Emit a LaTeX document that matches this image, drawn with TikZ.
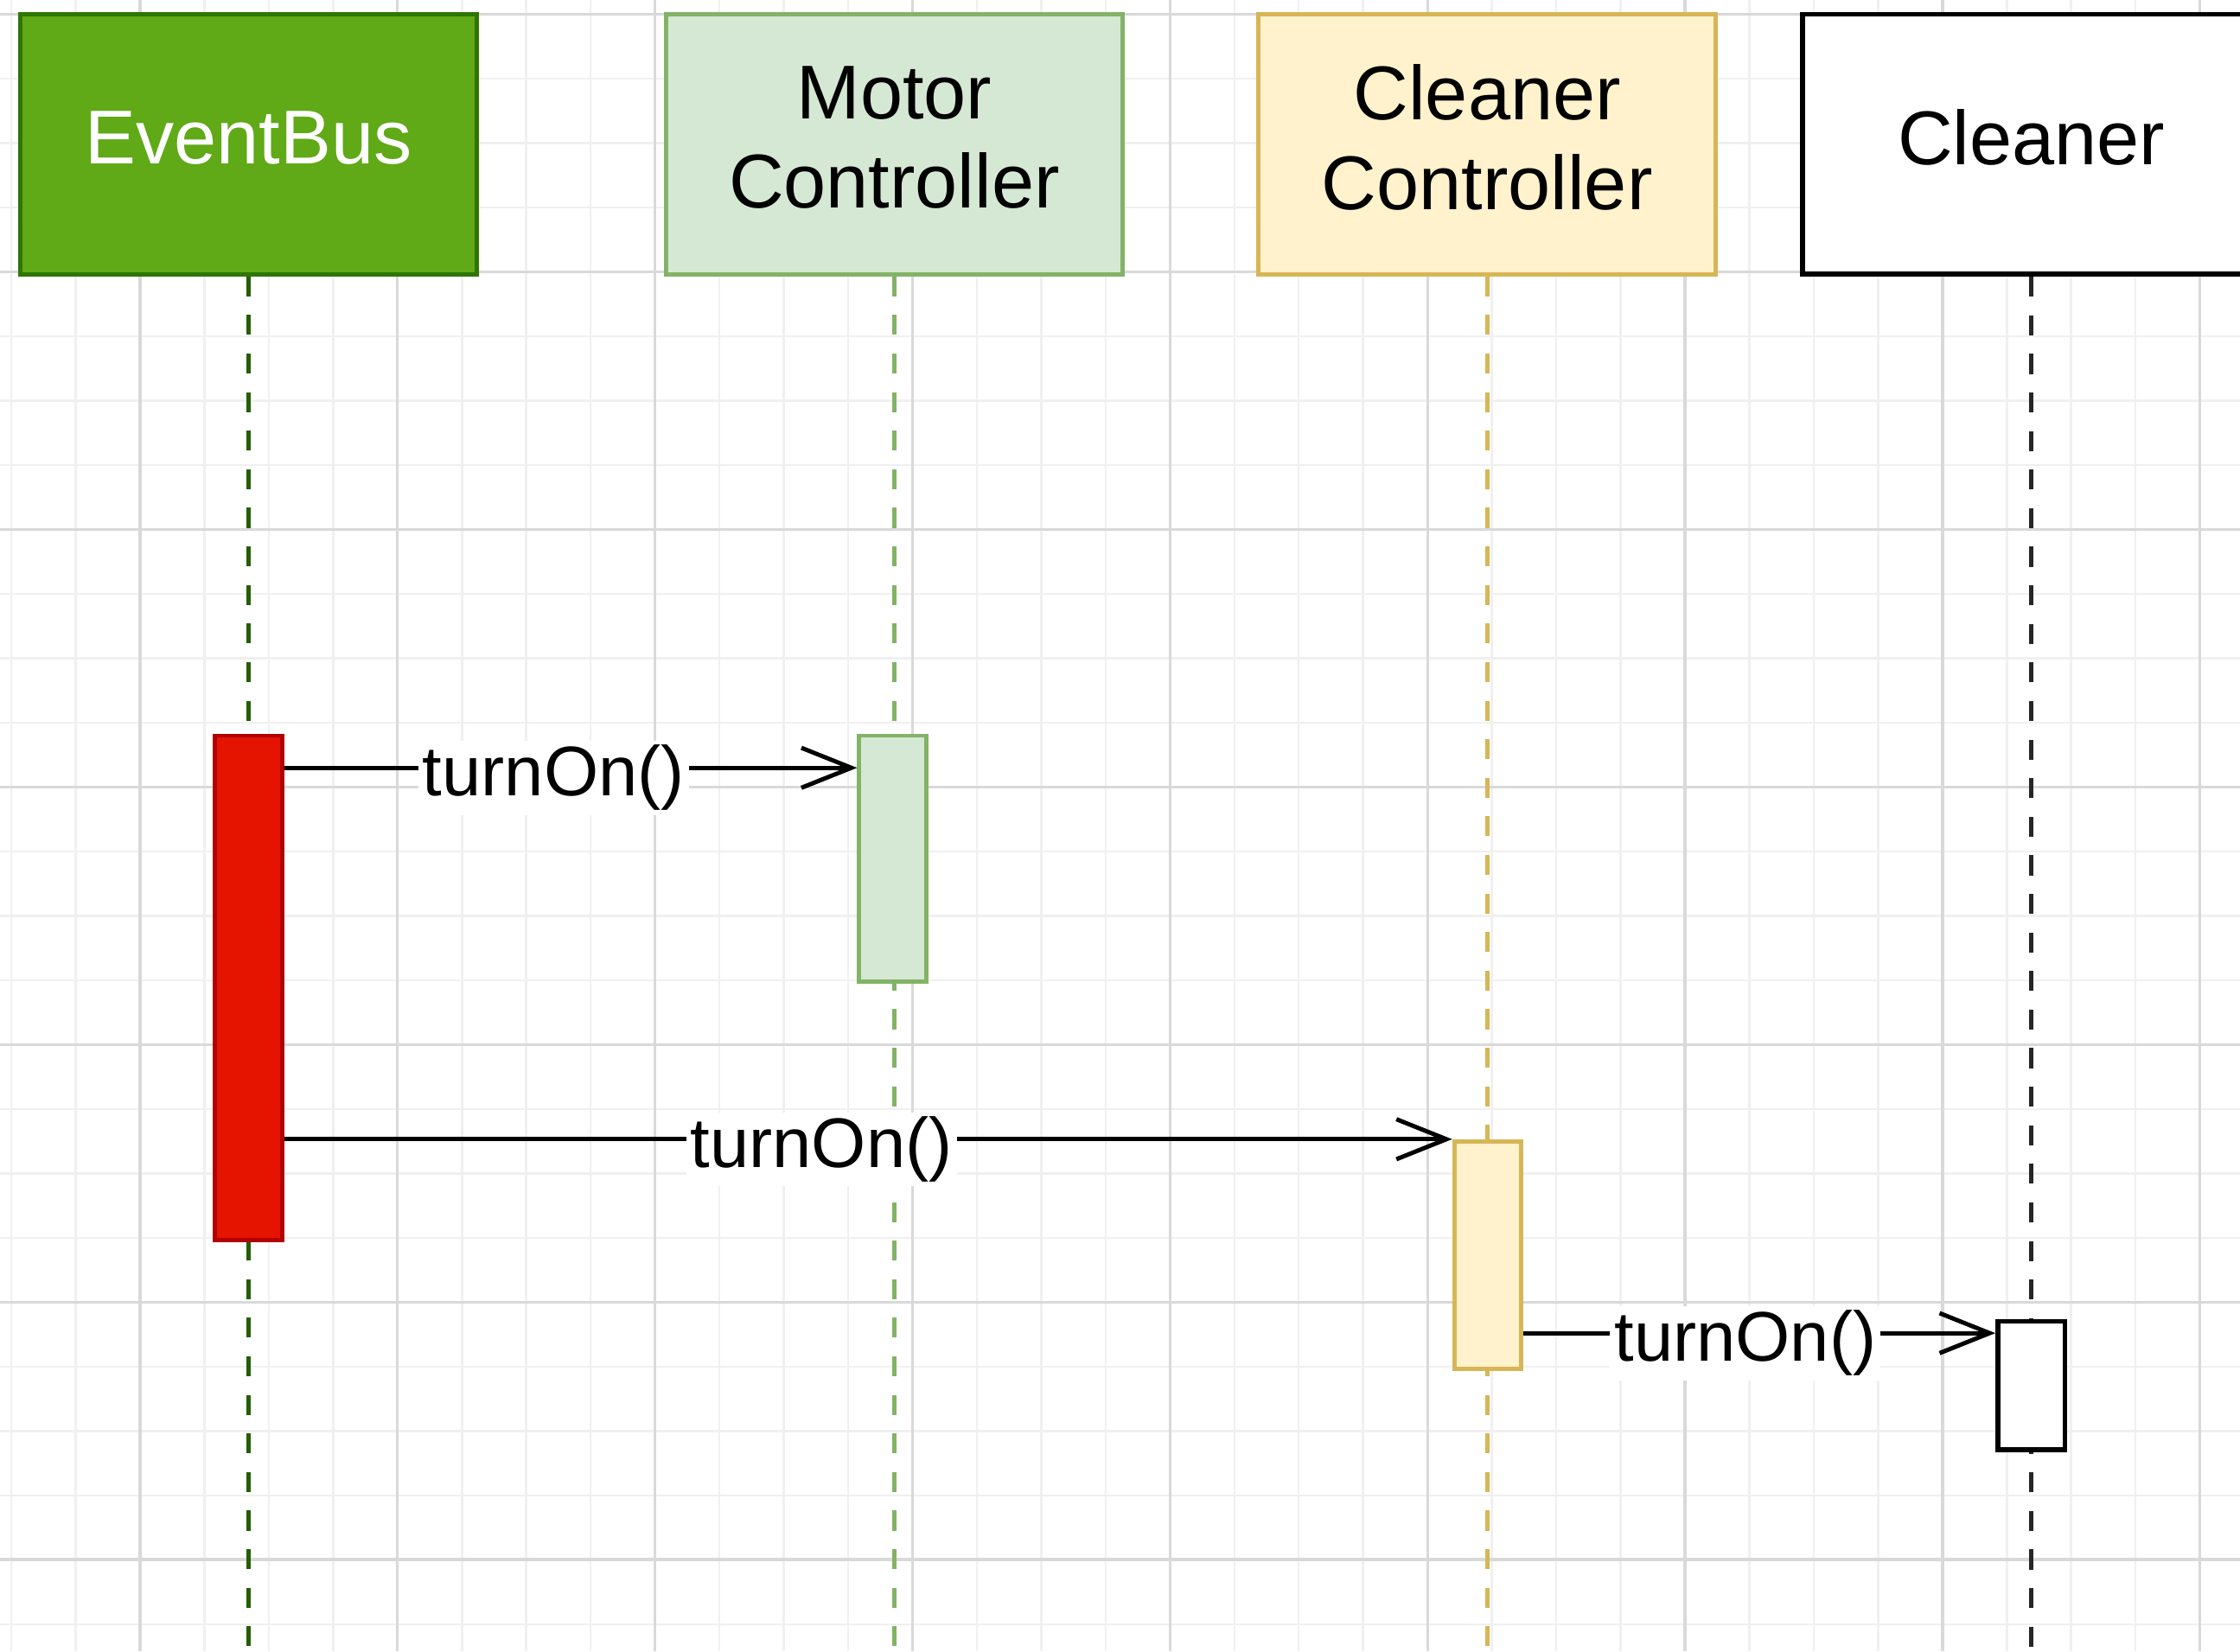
\documentclass[tikz,border=0pt]{standalone}
\usepackage{fontspec}
\setmainfont{Liberation Sans}
\usetikzlibrary{arrows.meta}
\definecolor{busfill}{HTML}{60A917}
\definecolor{busline}{HTML}{2D7600}
\definecolor{motfill}{HTML}{D5E8D4}
\definecolor{motline}{HTML}{82B366}
\definecolor{clcfill}{HTML}{FFF2CC}
\definecolor{clcline}{HTML}{D6B656}
\definecolor{actred}{HTML}{E51400}
\definecolor{actredline}{HTML}{B20000}
\definecolor{gridmajor}{HTML}{D9D9D9}
\definecolor{gridminor}{HTML}{F0F0F0}

\begin{document}
\begin{tikzpicture}[x=0.1mm,y=-0.1mm,>={Straight Barb[length=3.5mm,width=2.8mm]},
  head/.style={draw,line width=0.3mm,minimum width=32mm,minimum height=18.2mm,
    inner sep=0pt,align=center,text depth=1mm,font=\fontsize{15.2}{17.9}\selectfont},
  act/.style={draw,line width=0.3mm,minimum width=4.7mm,inner sep=0pt},
  life/.style={line width=0.3mm,dash pattern=on 1.4mm off 1.3mm},
  msg/.style={->,line width=0.3mm},
  lbl/.style={fill=white,inner sep=0.3mm,yshift=-0.7mm,font=\fontsize{14}{16}\selectfont}]
\useasboundingbox (0,0) rectangle (1568,1156);
\clip (0,0) rectangle (1568,1156);
\fill[white] (0,0) rectangle (1568,1156);
% grid
\foreach \i in {0,...,34} \draw[gridminor,line width=0.15mm] ({7.9+45.06*\i},0) -- ++(0,1156);
\foreach \i in {0,...,25} \draw[gridminor,line width=0.15mm] (0,{10+45.08*\i}) -- ++(1568,0);
\foreach \i in {0,...,8} \draw[gridmajor,line width=0.2mm] ({98+180.25*\i},0) -- ++(0,1156);
\foreach \i in {0,...,6} \draw[gridmajor,line width=0.2mm] (0,{10+180.3*\i}) -- ++(1568,0);
%
\node[head,fill=busfill,draw=busline,text=white] (eb) at (174,101) {EventBus};
\node[head,fill=motfill,draw=motline] (mc) at (626,101) {Motor\\Controller};
\node[head,fill=clcfill,draw=clcline] (cc) at (1041,101) {Cleaner\\Controller};
\node[head,fill=white,draw=black,line width=0.35mm] (cl) at (1422,101) {Cleaner};
\coordinate (bottom) at (0,1160);
%
\draw[life,busline!80!black] (eb.south) -- (eb.south |- bottom);
\draw[life,motline] (mc.south) -- (mc.south |- bottom);
\draw[life,clcline] (cc.south) -- (cc.south |- bottom);
\draw[life,black!85] (cl.south) -- (cl.south |- bottom);
%
\node[act,fill=actred,draw=actredline,minimum height=35.3mm] (ebact) at (174,691.5) {};
\node[act,fill=motfill,draw=motline,minimum height=17.2mm] (mcact) at (625,601) {};
\node[act,fill=clcfill,draw=clcline,minimum height=15.9mm] (ccact) at (1041.5,878.5) {};
\node[act,fill=white,draw=black,line width=0.35mm,minimum height=9mm] (clact) at (1422,970) {};
%%
\coordinate (m1) at ([yshift=-2.4mm]mcact.north west);
\coordinate (m3) at ([yshift=-1mm]clact.north west);
\draw[msg] (ebact.east |- m1) -- node[lbl,pos=0.47] {turnOn()} (m1);
\draw[msg] (ebact.east |- ccact.north west) -- node[lbl,pos=0.46] {turnOn()} (ccact.north west);
\draw[msg] (ccact.east |- m3) -- node[lbl,pos=0.47] {turnOn()} (m3);
\end{tikzpicture}
\end{document}
